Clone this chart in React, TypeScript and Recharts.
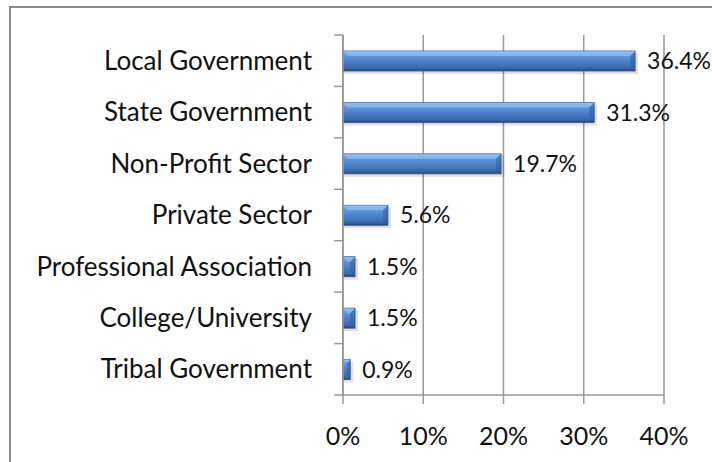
import { BarChart, Bar, XAxis, YAxis, CartesianGrid, LabelList } from 'recharts'

const categories = [
  'Local Government',
  'State Government',
  'Non-Profit Sector',
  'Private Sector',
  'Professional Association',
  'College/University',
  'Tribal Government',
]
const shares = [36.4, 31.3, 19.7, 5.6, 1.5, 1.5, 0.9]
const xTicks = [0, 10, 20, 30, 40]

const data = categories.map((name, i) => ({ name, value: shares[i] }))

const W = 712
const H = 462
const AXIS_W = 343
const TOP = 35
const XAXIS_H = 67
const BAND_HALF = (H - TOP - XAXIS_H) / categories.length / 2
const FONT = 'Lato, "Open Sans", sans-serif'

// category label plus the small tick marks between categories (Excel style)
const CategoryTick = (props: any) => {
  const { x, y, payload, index } = props
  return (
    <g>
      <line x1={AXIS_W - 9} x2={AXIS_W} y1={y - BAND_HALF} y2={y - BAND_HALF} stroke="#999" strokeWidth={1.5} />
      {index === categories.length - 1 && (
        <line x1={AXIS_W - 9} x2={AXIS_W} y1={y + BAND_HALF} y2={y + BAND_HALF} stroke="#999" strokeWidth={1.5} />
      )}
      <text x={x} y={y} dy="0.35em" textAnchor="end" fill="#111" fontSize={26} fontFamily={FONT}>
        {payload.value}
      </text>
    </g>
  )
}

const TubeBar = (props: any) => {
  const { x, y, width, height } = props
  if (!width || width <= 0) return null
  const cap = Math.min(5, width / 2)
  return (
    <g>
      <rect x={x + 1} y={y + 2} width={width + 2} height={height + 1} fill="#000" opacity={0.12} />
      <rect x={x} y={y} width={width} height={height} fill="url(#tube)" stroke="#2d5589" strokeWidth={0.8} />
      <polygon
        points={`${x + width - cap},${y + cap} ${x + width},${y} ${x + width},${y + height} ${x + width - cap},${y + height - cap}`}
        fill="#2f5f9e"
        opacity={0.55}
      />
      <polygon
        points={`${x},${y} ${x + width},${y} ${x + width - cap},${y + cap} ${x + cap},${y + cap}`}
        fill="#9cc4f2"
        opacity={0.6}
      />
    </g>
  )
}

export default function App() {
  return (
    <div style={{ position: 'fixed', left: 0, top: 0, width: W, height: H, overflow: 'hidden', background: '#fff' }}>
      <div
        style={{
          position: 'absolute',
          left: 9,
          top: 6,
          width: W,
          height: H,
          borderTop: '2px solid #8a8a8a',
          borderLeft: '2px solid #8a8a8a',
        }}
      />
      <BarChart
        width={W}
        height={H}
        data={data}
        layout="vertical"
        margin={{ top: TOP, right: 48, bottom: 0, left: 0 }}
        barSize={20}
        style={{ position: 'absolute', left: 0, top: 0 }}
      >
        <defs>
          <linearGradient id="tube" x1="0" y1="0" x2="0" y2="1">
            <stop offset="0%" stopColor="#86b6ee" />
            <stop offset="25%" stopColor="#5e94dc" />
            <stop offset="55%" stopColor="#4a7fc7" />
            <stop offset="85%" stopColor="#3a68ac" />
            <stop offset="100%" stopColor="#24477b" />
          </linearGradient>
        </defs>
        <CartesianGrid horizontal={false} stroke="#999" strokeWidth={1.5} />
        <XAxis
          type="number"
          domain={[0, 40]}
          ticks={xTicks}
          tickFormatter={(v: number) => `${v}%`}
          height={XAXIS_H}
          stroke="#999"
          strokeWidth={1.5}
          tickSize={9}
          tickMargin={23}
          tick={{ fill: '#111', fontSize: 25, fontFamily: FONT }}
        />
        <YAxis
          type="category"
          dataKey="name"
          width={AXIS_W}
          stroke="#999"
          strokeWidth={1.5}
          tickLine={false}
          tickSize={8}
          tickMargin={23}
          tick={<CategoryTick />}
          interval={0}
        />
        <Bar dataKey="value" shape={<TubeBar />} isAnimationActive={false}>
          <LabelList
            dataKey="value"
            position="right"
            offset={12}
            formatter={(v: any) => `${Number(v).toFixed(1)}%`}
            fill="#111"
            fontSize={23}
            fontFamily={FONT}
          />
        </Bar>
      </BarChart>
    </div>
  )
}
